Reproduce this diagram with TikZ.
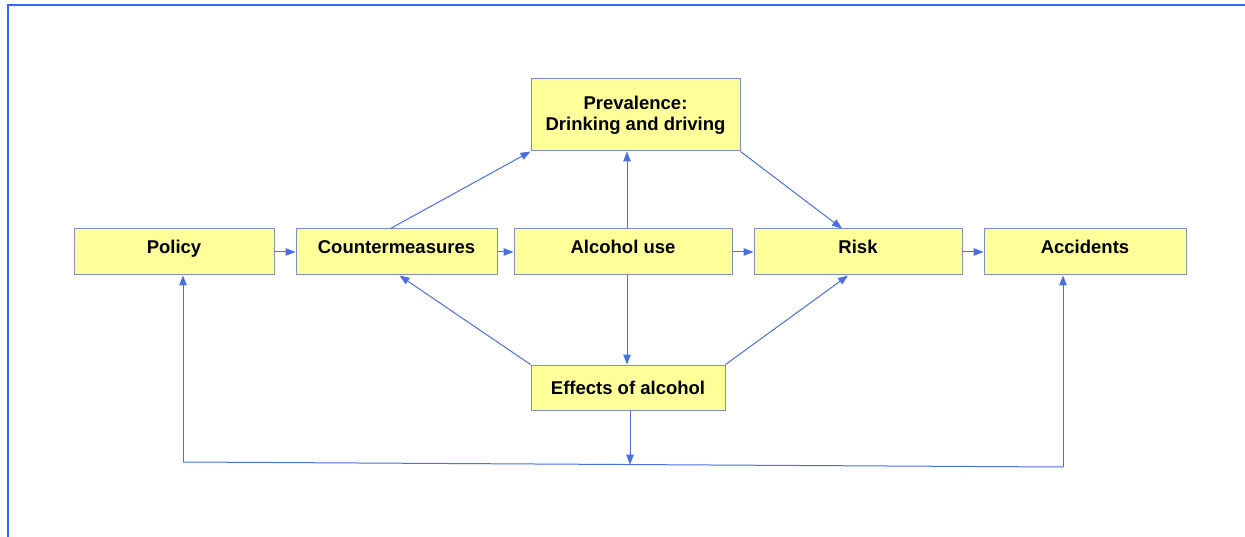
\documentclass[tikz,border=0pt]{standalone}
\usepackage{fontspec}
\setmainfont{Liberation Sans}
\usetikzlibrary{arrows.meta,calc}
\definecolor{frameblue}{HTML}{3366FF}
\definecolor{linkblue}{HTML}{4A6FE0}
\definecolor{boxfill}{HTML}{FFFF99}
\definecolor{boxline}{HTML}{7F8FB8}
\tikzset{
  box/.style={draw=boxline, fill=boxfill, line width=1pt, inner sep=0pt,
    font=\fontsize{18.5}{21}\selectfont\bfseries, align=center},
  rowbox/.style={box, minimum height=46pt, text height=13pt, text depth=9pt},
  link/.style={draw=linkblue, line width=1pt, -{Triangle[length=10pt,width=7.5pt]}},
  plain/.style={draw=linkblue, line width=1pt}
}
\begin{document}
\begin{tikzpicture}[x=1pt,y=-1pt]
\useasboundingbox (0,0) rectangle (1245,537);
\draw[frameblue, line width=2.5pt] (8,537) -- (8,5) -- (1245,5);

\node[box, minimum width=209pt, minimum height=72pt] (prev) at (635.5,115) {Prevalence:\\Drinking and driving};
\node[rowbox, minimum width=200pt] (pol) at (174,252) {Policy};
\node[rowbox, minimum width=201pt] (cm) at (396.5,252) {Countermeasures};
\node[rowbox, minimum width=218pt] (alc) at (623,252) {Alcohol use};
\node[rowbox, minimum width=208pt] (risk) at (858,252) {Risk};
\node[rowbox, minimum width=202pt] (acc) at (1085,252) {Accidents};
\node[box, minimum width=194pt, minimum height=45pt] (eff) at (628,387.5) {Effects of alcohol};

\coordinate (bl) at (183,462);
\coordinate (bm) at (630,464.5);
\coordinate (br) at (1063,467);

% horizontal chain
\draw[link] (pol) -- (cm);
\draw[link] (cm) -- (alc);
\draw[link] (alc) -- (risk);
\draw[link] (risk) -- (acc);

% to and from prevalence
\draw[link] ($(cm.north)+(-6,0)$) -- (prev.south west);
\draw[link] (alc.north -| 627,0) -- (prev.south -| 627,0);
\draw[link] (prev.south east) -- ($(risk.north)+(-16,0)$);

% effects of alcohol
\draw[link] (alc.south -| 627,0) -- (eff.north -| 627,0);
\draw[link] (eff.north west) -- ($(cm.south)+(3,0)$);
\draw[link] (eff.north east) -- ($(risk.south)+(-10,0)$);
\draw[link] (eff.south -| bm) -- (bm);

% bottom feedback line
\draw[plain] (bl) -- (br);
\draw[link] (bl) -- (pol.south -| bl);
\draw[link] (br) -- (acc.south -| br);
\end{tikzpicture}
\end{document}
